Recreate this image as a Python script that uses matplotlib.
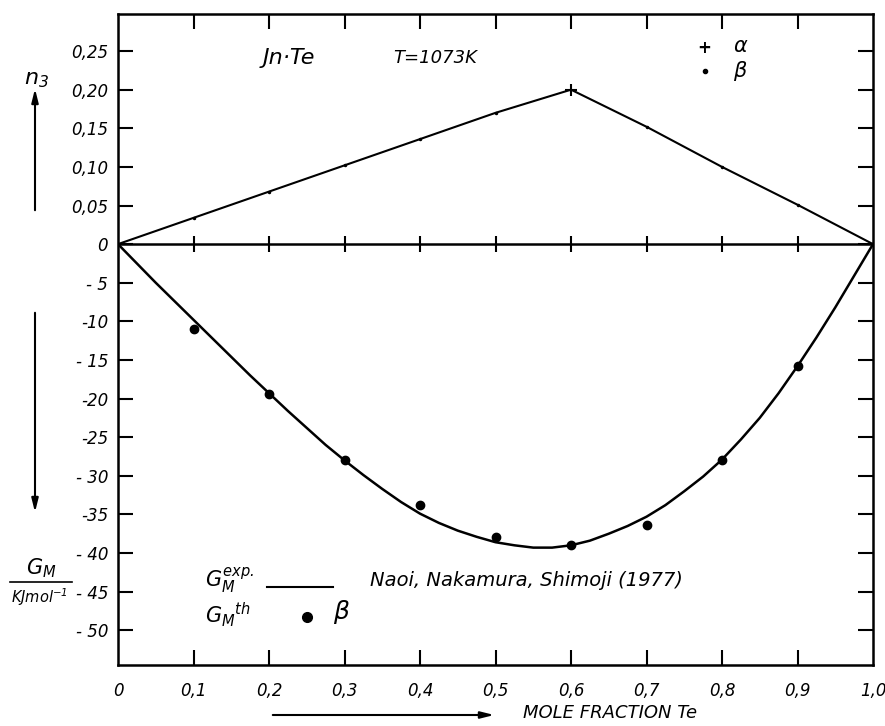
import matplotlib
matplotlib.use("Agg")
import matplotlib.pyplot as plt
from matplotlib.lines import Line2D

# mole fraction Te
x_frac = [0.0, 0.1, 0.2, 0.3, 0.4, 0.5, 0.6, 0.7, 0.8, 0.9, 1.0]

# n3 (upper part)
n3 = [0.0, 0.034, 0.068, 0.102, 0.136, 0.170, 0.200, 0.152, 0.100, 0.051, 0.0]
beta_n3_x = [0.1, 0.2, 0.3, 0.4, 0.5, 0.7, 0.8, 0.9]
beta_n3 = [0.034, 0.068, 0.102, 0.136, 0.170, 0.152, 0.100, 0.051]
alpha_n3_x = [0.6]
alpha_n3 = [0.200]

# G_M exp. curve (Naoi, Nakamura, Shimoji 1977), kJ/mol
gm_exp_x = [0.0, 0.025, 0.05, 0.075, 0.1, 0.125, 0.15, 0.175, 0.2, 0.225, 0.25,
            0.275, 0.3, 0.325, 0.35, 0.375, 0.4, 0.425, 0.45, 0.475, 0.5,
            0.525, 0.55, 0.575, 0.6, 0.625, 0.65, 0.675, 0.7, 0.725, 0.75,
            0.775, 0.8, 0.825, 0.85, 0.875, 0.9, 0.925, 0.95, 0.975, 1.0]
gm_exp = [0.0, -2.5, -5.0, -7.4, -9.8, -12.2, -14.6, -17.0, -19.3, -21.6, -23.8,
          -26.0, -28.0, -29.9, -31.7, -33.4, -34.9, -36.1, -37.1, -37.9, -38.6,
          -39.0, -39.3, -39.3, -39.0, -38.4, -37.5, -36.5, -35.3, -33.8, -32.0,
          -30.1, -27.9, -25.3, -22.5, -19.3, -15.8, -12.1, -8.2, -4.1, 0.0]

# G_M th (beta)
gm_th_x = [0.1, 0.2, 0.3, 0.4, 0.5, 0.6, 0.7, 0.8, 0.9]
gm_th = [-11.0, -19.4, -28.0, -33.8, -37.9, -39.0, -36.4, -27.9, -15.8]

# y ticks: upper part n3 (scaled x100 to share the axis), lower part G_M
n3_ticks = [0.05, 0.10, 0.15, 0.20, 0.25]
n3_labels = ["0,05", "0,10", "0,15", "0,20", "0,25"]
gm_ticks = [-5, -10, -15, -20, -25, -30, -35, -40, -45, -50]
gm_labels = ["- 5", "-10", "- 15", "-20", "-25", "- 30", "-35", "- 40", "- 45", "- 50"]
x_labels = ["0", "0,1", "0,2", "0,3", "0,4", "0,5", "0,6", "0,7", "0,8", "0,9", "1,0"]

SCALE = 100.0  # 0.05 of n3 drawn as 5 kJ/mol

plt.rcParams["font.family"] = "DejaVu Sans"
plt.rcParams["font.style"] = "italic"
plt.rcParams["mathtext.fontset"] = "dejavusans"

W, H = 885, 726
fig = plt.figure(figsize=(W / 100, H / 100), dpi=100)
ax = fig.add_axes([118 / W, 1 - 665 / H, (873 - 118) / W, (665 - 14) / H])


def fx(px):
    return px / W


def fy(py):
    return 1 - py / H


lw = 1.8
ax.plot(x_frac, [v * SCALE for v in n3], color="black", lw=1.5)
ax.plot(beta_n3_x, [v * SCALE for v in beta_n3], ls="none", marker=".", ms=3, color="black")
ax.plot(alpha_n3_x, [v * SCALE for v in alpha_n3], ls="none", marker="+", ms=8, mew=1.5, color="black")

ax.plot(gm_exp_x, gm_exp, color="black", lw=lw)
ax.plot(gm_th_x, gm_th, ls="none", marker="o", ms=6, color="black")

# zero line with crossing ticks
ax.axhline(0, color="black", lw=lw)
ax.plot(x_frac[1:-1], [0] * 9, ls="none", marker="|", ms=12, mew=1.5, color="black")

ax.set_xlim(0, 1)
ax.set_ylim(-54.5, 29.8)

yt = [t * SCALE for t in n3_ticks] + [0] + gm_ticks
yl = n3_labels + ["0"] + gm_labels
ax.set_yticks(yt, yl)
ax.set_xticks(x_frac, x_labels)
ax.tick_params(axis="both", direction="in", length=11, width=1.5,
               top=True, right=True, labelsize=12)
ax.tick_params(axis="x", pad=12)
ax.tick_params(axis="y", pad=7)
# no ticks at the frame corners
for t in [ax.xaxis.get_major_ticks()[0], ax.xaxis.get_major_ticks()[-1]]:
    t.tick1line.set_visible(False)
    t.tick2line.set_visible(False)
for s in ax.spines.values():
    s.set_linewidth(lw)

# texts inside the frame
ax.text(0.192, 24.1, "Jn·Te", fontsize=16, va="center")
ax.text(0.364, 24.1, "T=1073K", fontsize=13, va="center")
ax.text(0.777, 25.4, "+", fontsize=12, va="center", ha="center", weight="bold")
ax.text(0.815, 25.6, "α", fontsize=15, va="center")
ax.plot([0.777], [22.4], ls="none", marker="o", ms=3, color="black")
ax.text(0.815, 22.4, "β", fontsize=15, va="center")

ax.text(0.115, -43.6, r"$G_M^{exp.}$", fontsize=15, va="center")
ax.plot([0.197, 0.285], [-44.4, -44.4], color="black", lw=1.5)
ax.text(0.334, -43.6, "Naoi, Nakamura, Shimoji (1977)", fontsize=14, va="center")
ax.text(0.115, -48.0, r"$G_M{}^{th}$", fontsize=15, va="center")
ax.plot([0.250], [-48.3], ls="none", marker="o", ms=7, color="black")
ax.text(0.285, -47.7, "β", fontsize=18, va="center")

# axis captions outside the frame
fig.text(fx(36), fy(80), r"$n_3$", fontsize=16, ha="center", va="center")
arrow = dict(arrowstyle="-|>,head_length=0.8,head_width=0.2", color="black", lw=1.5)
ax.annotate("", xy=(fx(35), fy(86)), xytext=(fx(35), fy(213)),
            xycoords="figure fraction", textcoords="figure fraction", arrowprops=arrow)
ax.annotate("", xy=(fx(35), fy(515)), xytext=(fx(35), fy(310)),
            xycoords="figure fraction", textcoords="figure fraction", arrowprops=arrow)
ax.annotate("", xy=(fx(497), fy(715)), xytext=(fx(270), fy(715)),
            xycoords="figure fraction", textcoords="figure fraction", arrowprops=arrow)
fig.text(fx(523), fy(713), "MOLE FRACTION Te", fontsize=13, va="center")

fig.text(fx(41), fy(568), r"$G_M$", fontsize=15, ha="center", va="center")
fig.add_artist(Line2D([fx(10), fx(72)], [fy(582), fy(582)], color="black", lw=1.2))
fig.text(fx(39), fy(597), r"KJmol$^{-1}$", fontsize=10.5, ha="center", va="center")

fig.savefig("out.png", dpi=100)
